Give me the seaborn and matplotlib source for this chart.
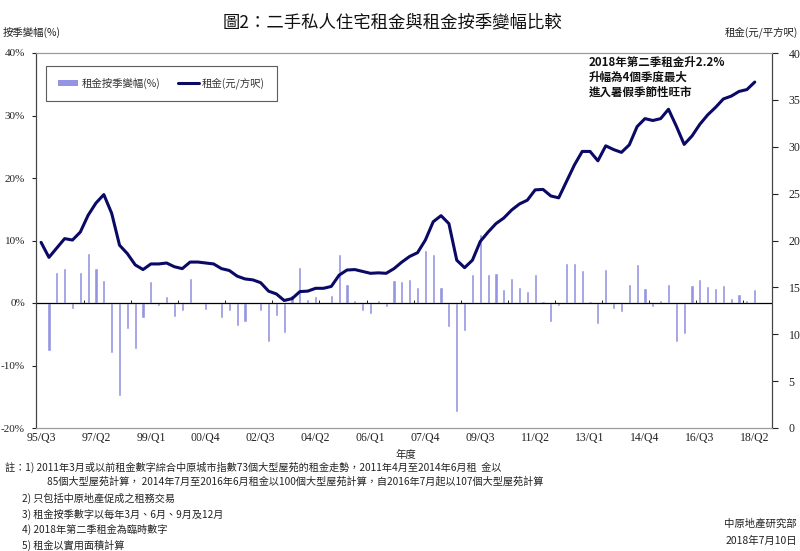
import matplotlib
matplotlib.use('Agg')
import matplotlib.pyplot as plt
import seaborn as sns
import pandas as pd
import numpy as np
from matplotlib.lines import Line2D
from matplotlib.patches import Patch

# ---------------- data ----------------
quarters = [f"{y % 100:02d}/Q{q}" for y in range(1995, 2019) for q in range(1, 5)][2:-2]  # 95/Q3 .. 18/Q2

rent = [19.8, 18.2, 19.2, 20.2, 20.05, 20.9, 22.7, 24.0, 24.9, 22.9,
        19.5, 18.6, 17.4, 16.9, 17.5, 17.5, 17.6, 17.2, 17.0, 17.7,
        17.7, 17.6, 17.5, 17.0, 16.8, 16.2, 15.9, 15.8, 15.5, 14.6,
        14.3, 13.6, 13.8, 14.55, 14.6, 14.9, 14.9, 15.1, 16.3, 16.85,
        16.9, 16.7, 16.5, 16.55, 16.5, 17.0, 17.7, 18.3, 18.7, 20.05,
        22.0, 22.65, 21.8, 17.9, 17.1, 17.9, 19.9, 20.9, 21.8, 22.4,
        23.25, 23.9, 24.3, 25.4, 25.45, 24.75, 24.55, 26.3, 28.05, 29.5,
        29.5, 28.5, 30.1, 29.7, 29.4, 30.2, 32.15, 33.0, 32.8, 33.0,
        34.0, 32.2, 30.25, 31.15, 32.4, 33.4, 34.2, 35.1, 35.4, 35.9,
        36.1, 36.9]

qoq_change = [np.nan, -7.6, 4.9, 5.65, -0.96, 4.9, 8.05, 5.65, 3.7, -8.0,
              -14.8, -4.1, -7.4, -2.35, 3.5, -0.5, 1.1, -2.2, -1.2, 4.05,
              0.1, -1.07, -0.2, -2.35, -1.2, -3.6, -3.1, -0.2, -1.2, -6.3,
              -2.1, -4.85, 1.3, 5.8, 0.6, 1.2, 0.2, 1.3, 7.9, 3.0,
              0.5, -1.2, -1.8, 0.5, -0.6, 3.7, 3.5, 3.9, 2.6, 8.5,
              7.8, 2.6, -3.9, -17.5, -4.4, 4.7, 11.0, 4.6, 4.75, 2.3,
              4.0, 2.6, 2.0, 4.6, 0.4, -3.1, -0.5, 6.45, 6.45, 5.3,
              0.3, -3.4, 5.5, -1.0, -1.4, 3.0, 6.2, 2.45, -0.6, 0.5,
              3.0, -6.3, -5.0, 2.9, 3.8, 2.8, 2.4, 2.9, 0.75, 1.4,
              0.5, 2.2]

tick_labels = quarters[::7]
left_ticks = [-20, -10, 0, 10, 20, 30, 40]
right_ticks = [0, 5, 10, 15, 20, 25, 30, 35, 40]

title = "圖2：二手私人住宅租金與租金按季變幅比較"
bar_label = "租金按季變幅(%)"
line_label = "租金(元/方呎)"
note_lines = [
    "註：1) 2011年3月或以前租金數字綜合中原城市指數73個大型屋苑的租金走勢，2011年4月至2014年6月租  金以",
    "85個大型屋苑計算， 2014年7月至2016年6月租金以100個大型屋苑計算，自2016年7月起以107個大型屋苑計算",
    "2) 只包括中原地產促成之租務交易",
    "3) 租金按季數字以每年3月、6月、9月及12月",
    "4) 2018年第二季租金為臨時數字",
    "5) 租金以實用面積計算",
]
annotation_lines = ["2018年第二季租金升2.2%", "升幅為4個季度最大", "進入暑假季節性旺市"]

df = pd.DataFrame({"idx": np.arange(len(quarters)), "quarter": quarters,
                   "change": qoq_change, "rent": rent})

# ---------------- style ----------------
sns.set_theme(style="white")
plt.rcParams['font.family'] = ['Noto Sans CJK TC', 'DejaVu Sans']
BAR_C = "#9494e4"
LINE_C = "#0a0a66"
NUM_FONT = ['Liberation Serif', 'DejaVu Serif']

W, H = 800, 551
fig = plt.figure(figsize=(W / 100, H / 100), dpi=100)
fig.patch.set_facecolor("white")
ax = fig.add_axes([36 / W, 1 - 428 / H, (772 - 36) / W, (428 - 53) / H])

sns.barplot(data=df, x="idx", y="change", native_scale=True, width=0.4,
            color=BAR_C, saturation=1, errorbar=None, ax=ax, zorder=2)
ax.axhline(0, color="black", lw=0.9, zorder=3)
ax.vlines(np.arange(5.5, len(quarters), 6), 0, 0.5, color="#222222", lw=0.7, zorder=3)

ax2 = ax.twinx()
sns.lineplot(data=df, x="idx", y="rent", ax=ax2, color=LINE_C, lw=2.2, zorder=4)

xlim = (-0.65, 93.2)
ax.set_xlim(*xlim)
ax2.set_xlim(*xlim)
ax.set_ylim(-20, 40)
ax2.set_ylim(0, 40)

ax.set_xticks(np.arange(0, len(quarters), 7))
ax.set_xticklabels(tick_labels, family=NUM_FONT, fontsize=8.5)
ax.tick_params(axis="x", length=0, pad=3, colors="#222222")
ax.set_yticks(left_ticks)
ax.set_yticklabels([f"{v}%" for v in left_ticks], family=NUM_FONT, fontsize=8)
ax.tick_params(axis="y", left=True, length=3, width=0.8, direction="out", pad=5, colors="#222222")
ax2.set_yticks(right_ticks)
ax2.set_yticklabels([str(v) for v in right_ticks], family=NUM_FONT, fontsize=8.5)
ax2.tick_params(axis="y", right=True, length=4, width=0.8, direction="out", pad=8, colors="#222222")

for a in (ax, ax2):
    a.set_xlabel("")
    a.set_ylabel("")
    for s in ("top", "bottom"):
        a.spines[s].set_color("#9a9a9a")
        a.spines[s].set_linewidth(0.8)
    for s in ("left", "right"):
        a.spines[s].set_color("#444444")
        a.spines[s].set_linewidth(0.8)

handles = [Patch(facecolor=BAR_C, edgecolor="none"), Line2D([], [], color=LINE_C, lw=2.2)]
leg = ax2.legend(handles, [bar_label, line_label], loc="center",
                 bbox_to_anchor=(0.013, 0.869, 0.314, 0.1), bbox_transform=ax2.transAxes,
                 mode="expand", ncol=2, frameon=True, fancybox=False, fontsize=7.5,
                 handlelength=2.0, handleheight=0.45, handletextpad=0.3, columnspacing=1.2,
                 borderaxespad=0, borderpad=1.15)
leg.get_frame().set_edgecolor("#333333")
leg.get_frame().set_linewidth(0.8)
for t in leg.get_texts():
    t.set_color("#333333")

# ---------------- texts ----------------
def fy(y):
    return 1 - y / H

fig.text(392 / W, fy(22), title, ha="center", va="center", fontsize=12.5, color="#111111")
fig.text(3 / W, fy(32), "按季變幅(%)", ha="left", va="center", fontsize=7.5, color="#222222")
fig.text(798 / W, fy(32), "租金(元/平方呎)", ha="right", va="center", fontsize=7.5, color="#222222")

for i, line in enumerate(annotation_lines):
    fig.text(589 / W, fy(62 + 15 * i), line, ha="left", va="center", fontsize=8.3,
             fontweight="bold", color="#111111")

fig.text(406 / W, fy(455), "年度", ha="center", va="center", fontsize=7.5, color="#222222")
note_pos = [(5, 467), (47, 482), (22, 498), (22, 514), (22, 529), (22, 545)]
for (x, y), line in zip(note_pos, note_lines):
    fig.text(x / W, fy(y), line, ha="left", va="center", fontsize=7.3, color="#222222")
fig.text(797 / W, fy(524), "中原地產研究部", ha="right", va="center", fontsize=7.5, color="#222222")
fig.text(797 / W, fy(541), "2018年7月10日", ha="right", va="center", fontsize=7.5, color="#222222")

fig.savefig("out.png", dpi=100)
